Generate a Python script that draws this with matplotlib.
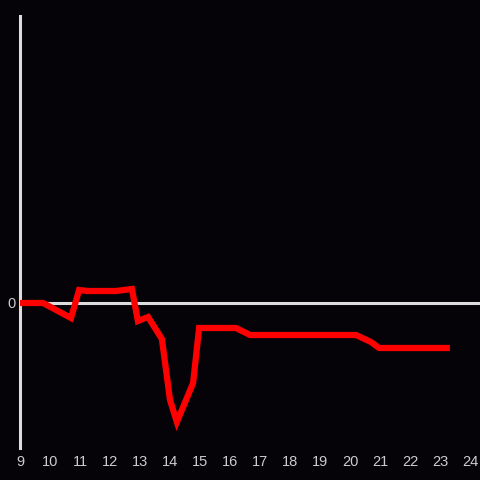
import matplotlib
matplotlib.use("Agg")
import matplotlib.pyplot as plt

plt.rcParams["font.family"] = ["Liberation Sans", "DejaVu Sans"]

x_vals = [9.0, 9.77, 10.7, 10.97, 11.25, 12.2, 12.73, 12.93, 13.27, 13.73, 14.0, 14.23, 14.77, 14.97, 16.2, 16.67, 20.2, 20.7, 20.97, 23.33]
y_vals = [0, 0, -15, 13, 12, 12, 14, -18, -14, -36, -97, -119, -80, -25, -25, -32, -32, -39, -45, -45]
x_ticks = list(range(9, 25))
y_ticks = [0]

bg = "#050308"
fig = plt.figure(figsize=(4.8, 4.8), dpi=100, facecolor=bg)
ax = fig.add_axes([20/480, 32/480, 460/480, 432/480], facecolor=bg)
ax.plot(x_vals, y_vals, color="#ff0000", linewidth=4.5, solid_joinstyle="miter",
        solid_capstyle="butt", zorder=3)
ax.axhline(0, color="#dddddd", linewidth=2.2, zorder=2)
ax.set_xlim(9, 9 + 460/30)
ax.set_ylim(-145, 287)
for s in ["top", "right", "bottom"]:
    ax.spines[s].set_visible(False)
ax.spines["left"].set_color("#dddddd")
ax.spines["left"].set_linewidth(2.2)
ax.set_xticks(x_ticks)
ax.set_xticklabels([str(t) for t in x_ticks])
ax.set_yticks(y_ticks)
ax.set_yticklabels(["0"])
ax.tick_params(axis="both", length=0, colors="#cccccc", labelsize=10.5)
ax.tick_params(axis="x", pad=5)
ax.tick_params(axis="y", pad=3)
fig.savefig("out.png", dpi=100, facecolor=bg)
